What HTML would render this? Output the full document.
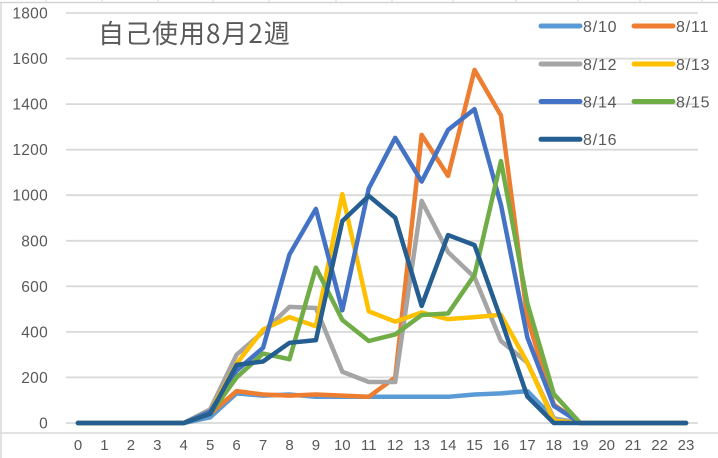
<!DOCTYPE html>
<html><head><meta charset="utf-8"><style>
html,body{margin:0;padding:0;background:#fff;}
svg{display:block;}
text{font-family:"Liberation Sans","Noto Sans CJK JP",sans-serif;fill:#595959;}
</style></head><body>
<svg width="718" height="458" viewBox="0 0 718 458" xmlns="http://www.w3.org/2000/svg">
<rect width="718" height="458" fill="#fff"/>
<!-- sheet header lines -->
<line x1="0" y1="2.5" x2="718" y2="2.5" stroke="#d4d4d4" stroke-width="1.5"/>
<g stroke="#d4d4d4" stroke-width="1">
<line x1="46" y1="0" x2="46" y2="2"/><line x1="102" y1="0" x2="102" y2="2"/><line x1="158" y1="0" x2="158" y2="2"/><line x1="213" y1="0" x2="213" y2="2"/><line x1="269" y1="0" x2="269" y2="2"/><line x1="336" y1="0" x2="336" y2="2"/><line x1="392" y1="0" x2="392" y2="2"/><line x1="453" y1="0" x2="453" y2="2"/><line x1="516" y1="0" x2="516" y2="2"/><line x1="578" y1="0" x2="578" y2="2"/><line x1="640" y1="0" x2="640" y2="2"/><line x1="702" y1="0" x2="702" y2="2"/>
</g>
<line x1="1" y1="3" x2="1" y2="458" stroke="#d9d9d9" stroke-width="1.5"/>
<line x1="0" y1="433" x2="718" y2="433" stroke="#d9d9d9" stroke-width="1.5"/>
<!-- gridlines -->
<g stroke="#d9d9d9" stroke-width="1.8">
<line x1="66" y1="13" x2="698" y2="13"/>
<line x1="66" y1="58.6" x2="698" y2="58.6"/>
<line x1="66" y1="104.1" x2="698" y2="104.1"/>
<line x1="66" y1="149.7" x2="698" y2="149.7"/>
<line x1="66" y1="195.2" x2="698" y2="195.2"/>
<line x1="66" y1="240.8" x2="698" y2="240.8"/>
<line x1="66" y1="286.3" x2="698" y2="286.3"/>
<line x1="66" y1="331.9" x2="698" y2="331.9"/>
<line x1="66" y1="377.4" x2="698" y2="377.4"/>
<line x1="66" y1="423" x2="698" y2="423"/>
</g>
<!-- y labels -->
<g font-size="15.5" text-anchor="end" letter-spacing="0.3">
<text x="48" y="18.5">1800</text>
<text x="48" y="64">1600</text>
<text x="48" y="109.6">1400</text>
<text x="48" y="155.2">1200</text>
<text x="48" y="200.7">1000</text>
<text x="48" y="246.3">800</text>
<text x="48" y="291.8">600</text>
<text x="48" y="337.4">400</text>
<text x="48" y="382.9">200</text>
<text x="48" y="428.5">0</text>
</g>
<!-- x labels -->
<g font-size="15" text-anchor="middle">
<text x="78" y="450">0</text><text x="104.4" y="450">1</text><text x="130.9" y="450">2</text><text x="157.3" y="450">3</text><text x="183.7" y="450">4</text><text x="210.2" y="450">5</text><text x="236.6" y="450">6</text><text x="263" y="450">7</text><text x="289.5" y="450">8</text><text x="315.9" y="450">9</text><text x="342.3" y="450">10</text><text x="368.8" y="450">11</text><text x="395.2" y="450">12</text><text x="421.7" y="450">13</text><text x="448.1" y="450">14</text><text x="474.5" y="450">15</text><text x="501" y="450">16</text><text x="527.4" y="450">17</text><text x="553.8" y="450">18</text><text x="580.3" y="450">19</text><text x="606.7" y="450">20</text><text x="633.1" y="450">21</text><text x="659.6" y="450">22</text><text x="686" y="450">23</text>
</g>
<!-- title -->
<text x="98" y="43" font-size="26" letter-spacing="1" style="font-family:'Noto Sans CJK JP','Liberation Sans',sans-serif">自己使用8月2週</text>
<!-- series -->
<g transform="translate(78,423) scale(26.4348,-0.22778)" fill="none" stroke-width="4.5" stroke-linejoin="round" stroke-linecap="round">
<polyline vector-effect="non-scaling-stroke" stroke="#5B9BD5" points="0,0 1,0 2,0 3,0 4,0 5,25 6,130 7,120 8,125 9,115 10,115 11,115 12,115 13,115 14,115 15,125 16,130 17,140 18,20 19,0 20,0 21,0 22,0 23,0"/>
<polyline vector-effect="non-scaling-stroke" stroke="#ED7D31" points="0,0 1,0 2,0 3,0 4,0 5,40 6,140 7,125 8,120 9,125 10,120 11,115 12,200 13,1265 14,1085 15,1550 16,1350 17,460 18,80 19,0 20,0 21,0 22,0 23,0"/>
<polyline vector-effect="non-scaling-stroke" stroke="#A5A5A5" points="0,0 1,0 2,0 3,0 4,0 5,60 6,300 7,400 8,510 9,505 10,225 11,180 12,180 13,975 14,750 15,640 16,360 17,265 18,20 19,0 20,0 21,0 22,0 23,0"/>
<polyline vector-effect="non-scaling-stroke" stroke="#FFC000" points="0,0 1,0 2,0 3,0 4,0 5,50 6,260 7,410 8,465 9,425 10,1005 11,490 12,445 13,485 14,456 15,465 16,475 17,265 18,10 19,0 20,0 21,0 22,0 23,0"/>
<polyline vector-effect="non-scaling-stroke" stroke="#4472C4" points="0,0 1,0 2,0 3,0 4,0 5,50 6,230 7,330 8,740 9,940 10,495 11,1030 12,1252 13,1060 14,1287 15,1378 16,958 17,375 18,75 19,0 20,0 21,0 22,0 23,0"/>
<polyline vector-effect="non-scaling-stroke" stroke="#70AD47" points="0,0 1,0 2,0 3,0 4,0 5,40 6,200 7,305 8,280 9,682 10,452 11,360 12,389 13,474 14,481 15,650 16,1150 17,525 18,127 19,0 20,0 21,0 22,0 23,0"/>
<polyline vector-effect="non-scaling-stroke" stroke="#255E91" points="0,0 1,0 2,0 3,0 4,0 5,40 6,255 7,270 8,352 9,364 10,887 11,997 12,901 13,514 14,825 15,781 16,455 17,116 18,0 19,0 20,0 21,0 22,0 23,0"/>
</g>
<!-- legend -->
<g stroke-width="5" stroke-linecap="round">
<line x1="541" y1="26" x2="580" y2="26" stroke="#5B9BD5"/>
<line x1="634" y1="26" x2="673" y2="26" stroke="#ED7D31"/>
<line x1="541" y1="64" x2="580" y2="64" stroke="#A5A5A5"/>
<line x1="634" y1="64" x2="673" y2="64" stroke="#FFC000"/>
<line x1="541" y1="101.5" x2="580" y2="101.5" stroke="#4472C4"/>
<line x1="634" y1="101.5" x2="673" y2="101.5" stroke="#70AD47"/>
<line x1="541" y1="139.3" x2="580" y2="139.3" stroke="#255E91"/>
</g>
<g font-size="16" letter-spacing="0.8">
<text x="583" y="31.8">8/10</text>
<text x="676" y="31.8">8/11</text>
<text x="583" y="69.8">8/12</text>
<text x="676" y="69.8">8/13</text>
<text x="583" y="107.3">8/14</text>
<text x="676" y="107.3">8/15</text>
<text x="583" y="145.1">8/16</text>
</g>
</svg>
</body></html>
